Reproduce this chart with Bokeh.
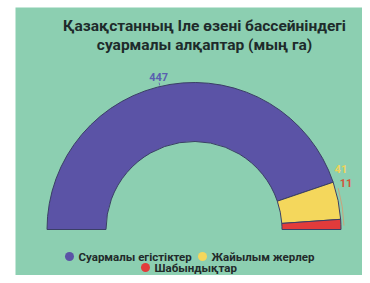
import math
from bokeh.plotting import figure
from bokeh.models import Range1d
from bokeh.core.properties import value
from bokeh.embed import file_html
from bokeh.resources import INLINE

# ---- data ----
categories = ["Суармалы егістіктер", "Жайылым жерлер", "Шабындықтар"]
values = [447, 41, 11]
colors = ["#5b53a6", "#f4d75c", "#e23b3b"]
label_colors = ["#5a5fb0", "#efd45a", "#d2573c"]
title_lines = ["Қазақстанның Іле өзені бассейніндегі", "суармалы алқаптар (мың га)"]

# ---- layout (picture pixel coordinates) ----
BG = "#8ccfb1"
W, H = 362, 275
PAGE_H = 283
CX, CY = 193.5, 229           # centre of the half donut
R_OUT, R_IN = 147, 88
label_angle_deg = [103, 22.5, 17]
label_r = [157, 159, 159]
legend_x = [69, 202, 145]
legend_y = [256, 256, 267]


def Y(py):
    return PAGE_H - py


p = figure(width=W, height=H, output_backend="svg", toolbar_location=None,
           x_range=Range1d(0, W), y_range=Range1d(Y(H), Y(0)),
           min_border=0)
p.axis.visible = False
p.grid.visible = False
p.outline_line_color = None
p.background_fill_color = "white"
p.border_fill_color = "white"

# background panel
p.quad(left=[15], right=[W], bottom=[Y(H)], top=[Y(7)],
       fill_color=BG, line_color=None)

# half donut
total = sum(values)
starts, ends = [], []
cum = 0
for v in values:
    starts.append(math.pi - (cum + v) / total * math.pi)
    ends.append(math.pi - cum / total * math.pi)
    cum += v

p.annular_wedge(x=[CX] * 3, y=[Y(CY)] * 3, inner_radius=R_IN, outer_radius=R_OUT,
                start_angle=starts, end_angle=ends, direction="anticlock",
                fill_color=colors, line_color="#3b3f66", line_width=1)

# leader lines
p.arc(x=CX, y=Y(CY), radius=R_OUT + 3, start_angle=math.radians(1.5),
      end_angle=math.radians(16), line_color="#c9a37c", line_width=1)
mid0 = (starts[0] + ends[0]) / 2 + math.radians(4)
p.segment(x0=[CX + (R_OUT + 1) * math.cos(mid0)], y0=[Y(CY) + (R_OUT + 1) * math.sin(mid0)],
          x1=[CX + (R_OUT + 4) * math.cos(mid0)], y1=[Y(CY) + (R_OUT + 4) * math.sin(mid0)],
          line_color="#6a6fb0", line_width=1)

# value labels
lx = [CX + r * math.cos(math.radians(a)) for a, r in zip(label_angle_deg, label_r)]
ly = [Y(CY) + r * math.sin(math.radians(a)) for a, r in zip(label_angle_deg, label_r)]
p.text(x=lx, y=ly, text=[str(v) for v in values], text_color=label_colors,
       text_font=value("Roboto"), text_font_style="bold", text_font_size="11px",
       text_align="center", text_baseline="middle")

# title
p.text(x=[204, 204], y=[Y(25), Y(44)], text=title_lines,
       text_font=value("Roboto"), text_font_style="bold", text_font_size="15.5px",
       text_align="center", text_baseline="middle", text_color="#1e2b2b")

# legend
p.scatter(x=legend_x, y=[Y(v) for v in legend_y], size=9, marker="circle",
          fill_color=colors, line_color=None)
p.text(x=[x + 9 for x in legend_x], y=[Y(v) for v in legend_y], text=categories,
       text_font=value("Roboto"), text_font_style="bold", text_font_size="11.5px",
       text_align="left", text_baseline="middle", text_color="#222a2a")

open("out.html", "w").write(file_html(p, INLINE))
